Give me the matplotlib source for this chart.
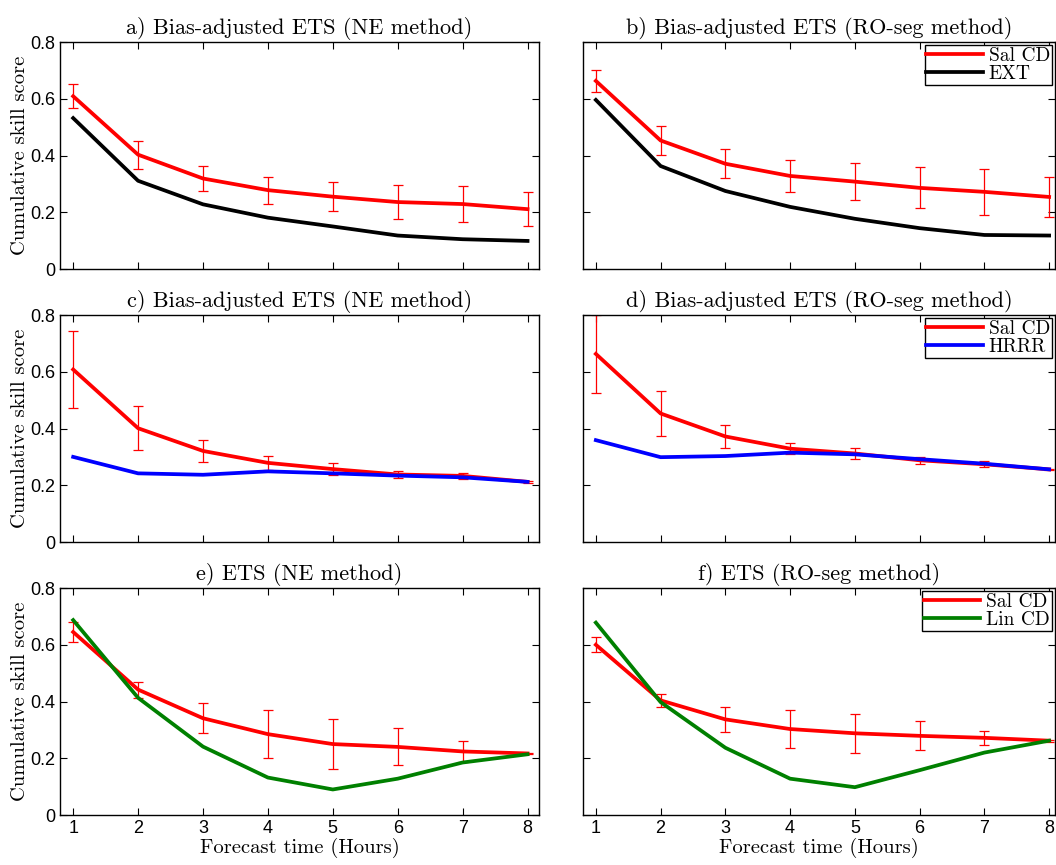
import matplotlib
matplotlib.use("Agg")
import matplotlib.pyplot as plt
import numpy as np

# forecast hours
hours = [1, 2, 3, 4, 5, 6, 7, 8]

# a) / b) bias-adjusted ETS, Sal CD vs EXT
sal_a = [0.609, 0.403, 0.319, 0.278, 0.255, 0.236, 0.229, 0.211]
err_a = [0.042, 0.049, 0.044, 0.048, 0.052, 0.060, 0.064, 0.059]
ext_a = [0.532, 0.311, 0.228, 0.181, 0.150, 0.118, 0.105, 0.099]

sal_b = [0.663, 0.453, 0.371, 0.328, 0.308, 0.286, 0.272, 0.254]
err_b = [0.038, 0.050, 0.051, 0.057, 0.066, 0.072, 0.080, 0.070]
ext_b = [0.596, 0.363, 0.275, 0.219, 0.177, 0.144, 0.120, 0.118]

# c) / d) bias-adjusted ETS, Sal CD vs HRRR
sal_c = [0.608, 0.401, 0.321, 0.279, 0.257, 0.238, 0.233, 0.212]
err_c = [0.136, 0.078, 0.040, 0.024, 0.020, 0.011, 0.010, 0.003]
hrrr_c = [0.300, 0.242, 0.237, 0.249, 0.242, 0.234, 0.228, 0.212]

sal_d = [0.663, 0.453, 0.372, 0.329, 0.312, 0.288, 0.274, 0.256]
err_d = [0.137, 0.081, 0.041, 0.020, 0.019, 0.012, 0.011, 0.003]
hrrr_d = [0.359, 0.299, 0.303, 0.315, 0.309, 0.292, 0.276, 0.256]

# e) / f) ETS, Sal CD vs Lin CD
sal_e = [0.645, 0.442, 0.341, 0.285, 0.250, 0.240, 0.224, 0.217]
err_e = [0.036, 0.028, 0.053, 0.084, 0.088, 0.065, 0.037, 0.003]
lin_e = [0.687, 0.413, 0.241, 0.132, 0.090, 0.128, 0.185, 0.214]

sal_f = [0.600, 0.404, 0.337, 0.303, 0.288, 0.279, 0.272, 0.262]
err_f = [0.027, 0.024, 0.045, 0.067, 0.069, 0.051, 0.025, 0.003]
lin_f = [0.678, 0.398, 0.237, 0.128, 0.098, 0.158, 0.220, 0.262]

titles = ["a) Bias-adjusted ETS (NE method)", "b) Bias-adjusted ETS (RO-seg method)",
          "c) Bias-adjusted ETS (NE method)", "d) Bias-adjusted ETS (RO-seg method)",
          "e) ETS (NE method)", "f) ETS (RO-seg method)"]

panels = [
    (sal_a, err_a, ext_a, "EXT", "black"),
    (sal_b, err_b, ext_b, "EXT", "black"),
    (sal_c, err_c, hrrr_c, "HRRR", "blue"),
    (sal_d, err_d, hrrr_d, "HRRR", "blue"),
    (sal_e, err_e, lin_e, "Lin CD", "green"),
    (sal_f, err_f, lin_f, "Lin CD", "green"),
]

serif = "cmr10"
sans = "Liberation Sans"

fig = plt.figure(figsize=(10.56, 8.65), dpi=100)

lefts = [0.057, 0.552]
widths = [0.453, 0.447]
bottoms = [0.689, 0.3734, 0.0578]
height = 0.2624

for i, (sal, err, other, other_name, other_col) in enumerate(panels):
    row, col = i // 2, i % 2
    ax = fig.add_axes([lefts[col], bottoms[row], widths[col], height])
    ax.errorbar(hours, sal, yerr=err, fmt="none", ecolor="red", elinewidth=0.9,
                capsize=3.5, capthick=0.9, zorder=2)
    ax.plot(hours, sal, color="red", lw=2.7, label="Sal CD", zorder=3)
    ax.plot(hours, other, color=other_col, lw=2.7, label=other_name, zorder=3)

    ax.set_ylim(0, 0.8)
    if col == 0:
        ax.set_xlim(0.80, 8.17)
    else:
        ax.set_xlim(0.80, 8.09)
    ax.set_xticks(hours)
    ax.set_yticks([0, 0.2, 0.4, 0.6, 0.8])
    ax.tick_params(direction="in", top=True, right=True, length=5, width=0.8,
                   labelsize=13)
    for lab in ax.get_xticklabels() + ax.get_yticklabels():
        lab.set_fontfamily(sans)
    ax.set_yticklabels(["0", "0.2", "0.4", "0.6", "0.8"])
    if col == 1:
        ax.tick_params(labelleft=False)
    else:
        ax.set_ylabel("Cumulative skill score", fontfamily=serif, fontsize=14.8, labelpad=1)
    if row < 2:
        ax.tick_params(labelbottom=False)
    else:
        ax.set_xlabel("Forecast time (Hours)", fontfamily=serif, fontsize=14.8, labelpad=1)
    for sp in ax.spines.values():
        sp.set_linewidth(1.0)
    ax.set_title(titles[i], fontfamily=serif, fontsize=16, pad=6)

    if col == 1:
        leg = ax.legend(loc="upper right", prop={"family": serif, "size": 14},
                        handlelength=2.9, handletextpad=0.3, labelspacing=0.0,
                        borderpad=0.1, borderaxespad=0.15, fancybox=False,
                        framealpha=1, edgecolor="black")
        leg.get_frame().set_linewidth(1.0)

fig.savefig("out.png", dpi=100)
